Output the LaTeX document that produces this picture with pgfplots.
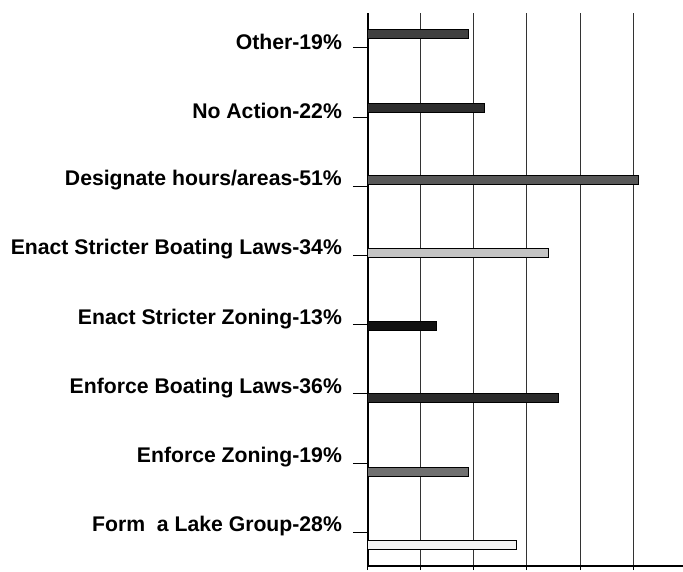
\documentclass[border=0pt]{standalone}
\usepackage{fontspec}
\setmainfont{Liberation Sans}
\usepackage{pgfplots}
\pgfplotsset{compat=1.18}
\definecolor{barA}{HTML}{404040}
\definecolor{barB}{HTML}{2E2E2E}
\definecolor{barC}{HTML}{585858}
\definecolor{barD}{HTML}{C4C4C4}
\definecolor{barE}{HTML}{111111}
\definecolor{barF}{HTML}{2B2B2B}
\definecolor{barG}{HTML}{707070}
\definecolor{barH}{HTML}{F4F4F4}
\begin{document}
\begin{tikzpicture}
\begin{axis}[
    scale only axis,
    width=157.5pt, height=276.5pt,
    xmin=0, xmax=59.43,
    ymin=-0.49, ymax=7.506,
    axis lines=left,
    axis line style={-, line width=0.6pt},
    xbar, bar width=4.2pt, bar shift=0pt,
    xtick={0,10,...,50},
    xticklabels={},
    ytick={0,...,7},
    yticklabels={Form~ a Lake Group-28\%, Enforce Zoning-19\%, Enforce Boating Laws-36\%,
        Enact Stricter Zoning-13\%, Enact Stricter Boating Laws-34\%,
        Designate hours/areas-51\%, No Action-22\%, Other-19\%},
    tick align=outside,
    major tick length=7.5pt,
    x tick style={/pgfplots/major tick length=2pt},
    tick style={black, line width=0.5pt},
    yticklabel style={font=\fontsize{10.6}{12}\selectfont\bfseries, yshift=3pt, xshift=-2pt},
    xmajorgrids,
    grid style={black!80, line width=0.5pt},
]
\addplot[fill=barH, draw=black, line width=0.5pt] coordinates {(28,-0.188)};
\addplot[fill=barG, draw=black, line width=0.5pt] coordinates {(19,0.868)};
\addplot[fill=barF, draw=black, line width=0.5pt] coordinates {(36,1.938)};
\addplot[fill=barE, draw=black, line width=0.5pt] coordinates {(13,2.98)};
\addplot[fill=barD, draw=black, line width=0.5pt] coordinates {(34,4.035)};
\addplot[fill=barC, draw=black, line width=0.5pt] coordinates {(51,5.09)};
\addplot[fill=barB, draw=black, line width=0.5pt] coordinates {(22,6.13)};
\addplot[fill=barA, draw=black, line width=0.5pt] coordinates {(19,7.20)};
\coordinate (bl) at (rel axis cs:-1.168,-0.009);
\coordinate (tr) at (rel axis cs:1,1.0235);
\end{axis}
\pgfresetboundingbox
\path[use as bounding box] (bl) rectangle (tr);
\end{tikzpicture}
\end{document}
